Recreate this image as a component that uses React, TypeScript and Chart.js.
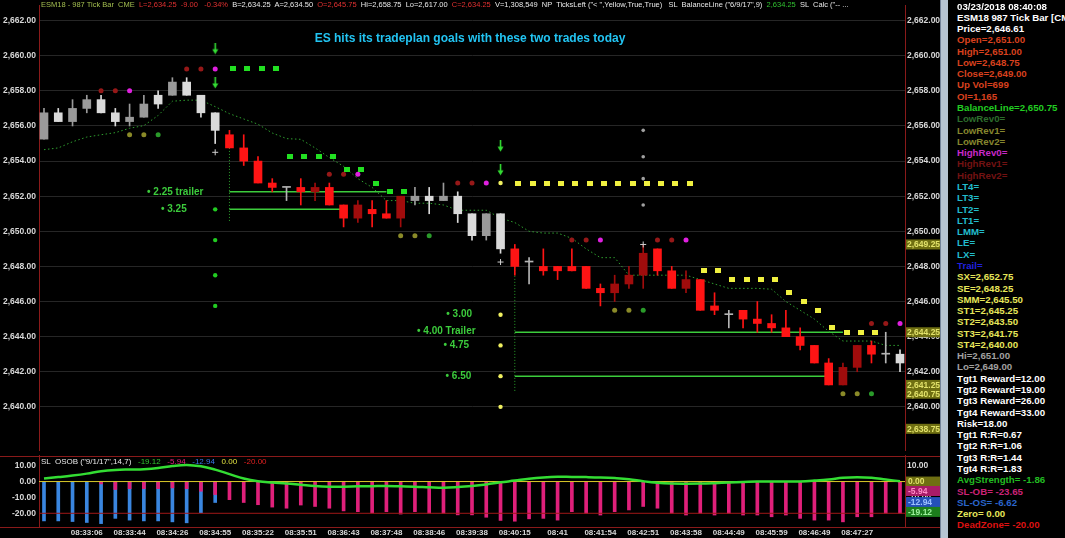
import React, { useEffect, useRef } from 'react';
import { Chart, registerables } from 'chart.js';

Chart.register(...registerables);

// ---------------- data ----------------
const TIME_LABELS = ['08:33:06', '08:33:44', '08:34:26', '08:34:55', '08:35:22', '08:35:51', '08:36:43', '08:37:48', '08:38:46', '08:39:38', '08:40:15', '08:41', '08:41:54', '08:42:51', '08:43:58', '08:44:49', '08:45:59', '08:46:49', '08:47:27'];
const FIRST_LABEL_BAR = 3;
const LABEL_STEP = 3;

const OPEN = [2655.25, 2656.25, 2656.25, 2657.0, 2657.5, 2656.75, 2656.25, 2656.5, 2657.25, 2657.75, 2658.5, 2657.75, 2656.75, 2655.5, 2654.75, 2654.0, 2652.75, 2652.5, 2652.5, 2652.5, 2652.5, 2651.5, 2651.5, 2651.25, 2651.0, 2652.0, 2651.75, 2652.0, 2651.75, 2652.0, 2651.0, 2651.0, 2651.0, 2649.0, 2648.25, 2648.0, 2648.0, 2648.0, 2648.0, 2646.75, 2647.0, 2647.5, 2648.75, 2649.0, 2647.75, 2647.25, 2647.25, 2645.75, 2645.25, 2645.5, 2645.0, 2644.75, 2644.5, 2644.0, 2643.5, 2642.5, 2642.25, 2642.25, 2643.5, 2643.0, 2642.5];
const HIGH = [2657.0, 2657.0, 2657.5, 2657.75, 2657.75, 2657.0, 2657.25, 2657.75, 2658.0, 2658.75, 2658.75, 2657.75, 2656.75, 2655.75, 2655.5, 2654.25, 2653.0, 2652.5, 2653.0, 2652.75, 2652.75, 2651.5, 2651.75, 2651.75, 2651.75, 2652.0, 2652.5, 2652.5, 2652.75, 2652.25, 2651.0, 2651.0, 2651.0, 2649.25, 2648.5, 2649.0, 2648.0, 2649.0, 2648.0, 2647.0, 2647.5, 2648.0, 2649.25, 2649.0, 2648.0, 2647.75, 2647.25, 2646.5, 2645.5, 2645.5, 2646.0, 2645.25, 2645.5, 2644.5, 2643.5, 2642.75, 2642.5, 2643.5, 2643.75, 2644.25, 2643.25];
const LOW = [2655.25, 2656.25, 2656.0, 2656.75, 2656.75, 2656.0, 2656.0, 2656.5, 2657.0, 2657.75, 2657.75, 2656.5, 2655.0, 2654.75, 2653.75, 2652.75, 2652.25, 2651.75, 2651.5, 2651.75, 2651.5, 2650.25, 2650.5, 2650.25, 2650.75, 2650.25, 2651.5, 2651.0, 2651.75, 2650.5, 2649.5, 2649.5, 2648.75, 2647.5, 2647.0, 2647.5, 2647.25, 2647.75, 2646.75, 2645.75, 2646.0, 2646.75, 2646.75, 2647.5, 2646.75, 2646.5, 2645.5, 2645.25, 2644.5, 2644.5, 2644.25, 2644.25, 2644.0, 2643.25, 2642.5, 2641.25, 2641.25, 2642.0, 2642.5, 2642.5, 2642.0];
const CLOSE = [2656.75, 2656.75, 2657.0, 2657.5, 2656.75, 2656.25, 2656.5, 2657.25, 2657.75, 2658.5, 2657.75, 2656.75, 2655.75, 2654.75, 2654.0, 2652.75, 2652.5, 2652.5, 2652.25, 2652.25, 2651.5, 2650.75, 2650.75, 2651.0, 2650.75, 2650.75, 2652.0, 2651.75, 2652.0, 2651.0, 2649.75, 2649.75, 2649.0, 2648.0, 2648.25, 2647.75, 2647.75, 2647.75, 2646.75, 2646.5, 2646.5, 2647.0, 2647.5, 2647.75, 2646.75, 2646.75, 2645.5, 2645.5, 2645.25, 2645.0, 2644.75, 2644.5, 2644.0, 2643.5, 2642.5, 2641.25, 2641.25, 2643.5, 2643.0, 2643.0, 2643.0];
// L light gray, M mid gray, R red, D dark red, X doji
const CANDLE_TONE = 'MLMMLLMMLMLLLRRRRXRDRRDRRDMLMLLMLRXRRRRRDDDRRDRRXRRRRRRRDDRXL'.split('');
const BALANCE_LINE = [2654.65, 2654.75, 2655.1, 2655.37, 2655.5, 2655.62, 2655.87, 2656.02, 2656.6, 2657.41, 2657.47, 2657.47, 2657.1, 2656.7, 2656.4, 2656.1, 2655.6, 2655.28, 2655.24, 2654.75, 2654.2, 2653.7, 2653.0, 2652.5, 2651.75, 2651.75, 2651.6, 2651.6, 2651.5, 2651.2, 2651.2, 2651.2, 2650.75, 2650.5, 2650.0, 2649.9, 2649.9, 2649.6, 2649.0, 2648.5, 2648.5, 2647.5, 2647.5, 2647.5, 2647.5, 2647.5, 2647.25, 2647.0, 2646.75, 2646.75, 2646.75, 2646.7, 2646.0, 2645.5, 2645.0, 2644.3, 2643.75, 2643.75, 2643.75, 2643.5, 2643.5];

const PRICE_TICKS = [2640, 2642, 2644, 2646, 2648, 2650, 2652, 2654, 2656, 2658, 2660, 2662];
const PRICE_AXIS_MARKS = [2649.25, 2644.25, 2641.25, 2640.75, 2638.75];

// [bar, price]
const GREEN_SQUARES = [[13, 2659.25], [14, 2659.25], [15, 2659.25], [16, 2659.25], [17, 2654.25], [18, 2654.25], [19, 2654.25], [20, 2654.25], [21, 2653.5], [22, 2653.5], [23, 2652.75], [24, 2652.25], [25, 2652.25]];
const YELLOW_SQUARES = [[33, 2652.75], [34, 2652.75], [35, 2652.75], [36, 2652.75], [37, 2652.75], [38, 2652.75], [39, 2652.75], [40, 2652.75], [41, 2652.75], [42, 2652.75], [43, 2652.75], [44, 2652.75], [45, 2652.75], [46, 2647.75], [47, 2647.75], [48, 2647.25], [49, 2647.25], [50, 2647.25], [51, 2647.25], [52, 2646.5], [53, 2646.0], [54, 2645.5], [55, 2644.5], [56, 2644.25], [57, 2644.25], [58, 2644.25]];
const HIGH_REV_DOTS = [[4, 2658], [5, 2658], [10, 2659.25], [11, 2659.25], [20, 2653.25], [21, 2653.25], [29, 2652.75], [30, 2652.75], [37, 2649.5], [38, 2649.5], [43, 2649.5], [44, 2649.5], [58, 2644.75], [59, 2644.75]];
const HIGH_REV0_DOTS = [[6, 2658], [12, 2659.25], [22, 2653.25], [31, 2652.75], [39, 2649.5], [45, 2649.5], [60, 2644.75]];
const LOW_REV_DOTS = [[6, 2655.5], [7, 2655.5], [25, 2649.75], [26, 2649.75], [40, 2645.5], [41, 2645.5], [56, 2640.75], [57, 2640.75]];
const LOW_REV0_DOTS = [[8, 2655.5], [27, 2649.75], [42, 2645.5], [58, 2640.75]];
const TRADE1_TARGETS = [[12, 2651.25], [12, 2649.5], [12, 2647.5], [12, 2645.75]];
const TRADE2_TARGETS = [[32, 2645.25], [32, 2643.5], [32, 2641.75], [32, 2640.0], [32, 2652.75]];
const LONG_TARGETS = [[42, 2651.5], [42, 2653.0], [42, 2654.25], [42, 2655.75]];
const ENTRIES = [[12, 2654.5], [32, 2648.25], [42, 2649.25]];
const ARROWS = [[12, 2660.4], [12, 2658.45], [32, 2654.85], [32, 2653.5]];
const TARGET_LINES = [
  { from: 13, to: 24, price: 2652.25 },
  { from: 13, to: 21, price: 2651.25 },
  { from: 33, to: 56, price: 2644.25 },
  { from: 33, to: 55, price: 2641.75 },
];
const STOP_DROPS = [
  { bar: 13, top: 2654.75, bottom: 2650.5 },
  { bar: 33, top: 2649.0, bottom: 2640.9 },
];
const TRADE_NOTES = [
  { bar: 9.2, price: 2652.25, text: '• 2.25 trailer' },
  { bar: 9.1, price: 2651.25, text: '• 3.25' },
  { bar: 29.1, price: 2645.25, text: '• 3.00' },
  { bar: 28.2, price: 2644.3, text: '• 4.00 Trailer' },
  { bar: 28.9, price: 2643.5, text: '• 4.75' },
  { bar: 29.05, price: 2641.75, text: '• 6.50' },
];

const OS_BLUE = [-24.8, -24.8, -25.2, -25.8, -26.5, -23.2, -24.3, -24.8, -24.8, -25.4, -26.0, -19.6, -13.2];
const OB_PINK = [0, 0, 0, 0, -1.5, -5.0, -4.5, -4.5, -4.5, -4.0, -4.5, -6.1, -8.2, -11.4, -13.2, -14.6, -16.1, -16.8, -14.8, -15.7, -16.8, -18.5, -19.0, -19.8, -19.0, -20.5, -19.0, -20.0, -20.0, -21.0, -21.0, -22.5, -24.5, -25.0, -23.5, -23.2, -24.3, -19.0, -20.0, -21.1, -19.0, -17.9, -15.7, -16.8, -20.0, -21.1, -20.0, -21.1, -20.0, -21.1, -21.1, -22.2, -21.1, -23.2, -24.3, -24.3, -25.4, -22.2, -22.2, -20.0, -20.0];
const AVG_STRENGTH = [1.9, 2.8, 3.8, 5.0, 6.5, 7.3, 7.6, 7.8, 8.5, 9.8, 10.5, 9.6, 7.5, 4.7, 1.9, 0.2, -0.6, -1.2, -2.0, -2.8, -3.2, -3.2, -3.0, -2.9, -2.8, -3.0, -3.2, -3.6, -3.9, -3.5, -2.8, -1.8, -0.5, 0.6, 1.8, 2.6, 3.0, 2.9, 2.8, 2.6, 2.2, 1.5, 0.2, -0.8, -1.3, -1.4, -1.3, -1.0, -0.6, -0.3, 0.0, 0.0, 0.0, 0.1, 0.6, 1.3, 2.4, 2.7, 2.4, 1.3, 0.2];
const ZERO_LEVEL = 0;
const DEAD_ZONE = -20;
const OSC_TICKS = [10, 0, -10, -20];
const OSC_AXIS_MARKS = [
  { value: 0, label: '0.00', bg: '#6f6f12', fg: '#e2e26a' },
  { value: -12.94, label: '-12.94', bg: '#2450b8', fg: '#9cc0ff' },
  { value: -5.94, label: '-5.94', bg: '#a81c68', fg: '#ff8cc8' },
  { value: -19.12, label: '-19.12', bg: '#1c7e1c', fg: '#9cf09c' },
];

const HEADER_SEGMENTS: [string, string][] = [
  ['ESM18 - 987 Tick Bar  CME  ', '#a4bf50'],
  ['L=2,634.25  -9.00   -0.34%  ', '#e03030'],
  ['B=2,634.25  A=2,634.50  ', '#e8e8e8'],
  ['O=2,645.75  ', '#e03030'],
  ['Hi=2,658.75  Lo=2,617.00  ', '#e8e8e8'],
  ['C=2,634.25  ', '#e03030'],
  ['V=1,308,549  NP  TicksLeft ("< ",Yellow,True,True)   SL  BalanceLine ("6/9/17",9)  ', '#e8e8e8'],
  ['2,634.25', '#30c030'],
  ['  SL  Calc ("-- ...', '#e8e8e8'],
];
const OSC_LEGEND: [string, string][] = [
  ['SL  OSOB ("9/1/17",14,7)   ', '#e8e8e8'],
  ['-19.12   ', '#30c030'],
  ['-5.94   ', '#e0207a'],
  ['-12.94   ', '#3a78e8'],
  ['0.00   ', '#e0e040'],
  ['-20.00', '#e02020'],
];
const TITLE = 'ES hits its tradeplan goals with these two trades today';

const OR = '#d8401e', CY = '#22bccc', YE = '#e6e65a', W = '#ffffff';
const PANEL_LINES: [string, string][] = [
  ['03/23/2018 08:40:08', W], ['ESM18 987 Tick Bar [CME]', W], ['Price=2,646.61', W],
  ['Open=2,651.00', OR], ['High=2,651.00', OR], ['Low=2,648.75', OR], ['Close=2,649.00', OR], ['Up Vol=699', OR], ['OI=1,165', OR],
  ['BalanceLine=2,650.75', '#22cc22'],
  ['LowRev0=', '#2d6e2d'], ['LowRev1=', '#86862e'], ['LowRev2=', '#86862e'],
  ['HighRev0=', '#c828c8'], ['HighRev1=', '#721212'], ['HighRev2=', '#721212'],
  ['LT4=', CY], ['LT3=', CY], ['LT2=', CY], ['LT1=', CY], ['LMM=', CY], ['LE=', CY], ['LX=', CY],
  ['Trail=', '#2020dd'],
  ['SX=2,652.75', YE], ['SE=2,648.25', YE], ['SMM=2,645.50', YE], ['ST1=2,645.25', YE], ['ST2=2,643.50', YE], ['ST3=2,641.75', YE], ['ST4=2,640.00', YE],
  ['Hi=2,651.00', '#a0a0a0'], ['Lo=2,649.00', '#a0a0a0'],
  ['Tgt1 Reward=12.00', W], ['Tgt2 Reward=19.00', W], ['Tgt3 Reward=26.00', W], ['Tgt4 Reward=33.00', W],
  ['Risk=18.00', W],
  ['Tgt1 R:R=0.67', W], ['Tgt2 R:R=1.06', W], ['Tgt3 R:R=1.44', W], ['Tgt4 R:R=1.83', W],
  ['AvgStrength= -1.86', '#22bb22'], ['SL-OB= -23.65', '#cc2277'], ['SL-OS= -6.62', '#2a66cc'], ['Zero= 0.00', YE], ['DeadZone= -20.00', '#dd1111'],
];

// ---------------- layout / style constants ----------------
const FONT = '"Liberation Sans", Arial, sans-serif';
const X_MIN = -0.35;
const X_MAX = 60.35;
const PRICE_MIN = 2637.543;
const PRICE_MAX = 2662.891;
const OSC_MIN = -28.64;
const OSC_MAX = 16.74;
const RED_RULE = '#8a1a1a';
const GRID = '#262626';
const TICK_COLOR = '#d8d8d8';
const SQUARE_SHIFT = 0.25;
const TONE_COLOR: Record<string, string> = { L: '#dadada', M: '#9a9a9a', R: '#ff1414', D: '#a00c0c', X: '#b4b4b4' };

const fmtPrice = (v: number) => v.toLocaleString('en-US', { minimumFractionDigits: 2, maximumFractionDigits: 2 });

function makeSquare(color: string) {
  const c = document.createElement('canvas');
  c.width = 6; c.height = 5;
  const g = c.getContext('2d')!;
  g.fillStyle = color; g.fillRect(0, 0, 6, 5);
  return c;
}
function makeArrow(color: string) {
  const c = document.createElement('canvas');
  c.width = 7; c.height = 12;
  const g = c.getContext('2d')!;
  g.strokeStyle = color; g.lineWidth = 1.6;
  g.beginPath(); g.moveTo(3.5, 0); g.lineTo(3.5, 8); g.stroke();
  g.fillStyle = color;
  g.beginPath(); g.moveTo(0.5, 6.5); g.lineTo(6.5, 6.5); g.lineTo(3.5, 11.5); g.closePath(); g.fill();
  return c;
}

const pts = (arr: number[][], shift = 0) => arr.map(([b, p]) => ({ x: b + shift, y: p }));
const dotSet = (arr: number[][], color: string, radius = 2.3) => ({
  type: 'scatter' as const, data: pts(arr), pointRadius: radius, pointBackgroundColor: color, pointBorderWidth: 0, order: 1,
});

export default function App() {
  const priceRef = useRef<HTMLCanvasElement>(null);
  const oscRef = useRef<HTMLCanvasElement>(null);

  useEffect(() => {
    const tickFont = { family: FONT, size: 8.5, weight: 'bold' as const };

    const priceDecor = {
      id: 'priceDecor',
      afterDatasetsDraw(chart: any) {
        const { ctx, scales } = chart;
        ctx.save();
        ctx.font = `bold 10px ${FONT}`;
        ctx.fillStyle = '#3ccc3c';
        ctx.textAlign = 'center';
        ctx.textBaseline = 'middle';
        TRADE_NOTES.forEach((n) => ctx.fillText(n.text, scales.x.getPixelForValue(n.bar), scales.y.getPixelForValue(n.price)));
        ctx.restore();
      },
      afterDraw(chart: any) {
        const { ctx, scales, chartArea } = chart;
        ctx.save();
        ctx.font = `bold 8.5px ${FONT}`;
        ctx.textAlign = 'left';
        ctx.textBaseline = 'middle';
        PRICE_AXIS_MARKS.forEach((v) => {
          const py = scales.y.getPixelForValue(v);
          ctx.fillStyle = '#6f6f12';
          ctx.fillRect(chartArea.right + 1, py - 5, 35, 10);
          ctx.fillStyle = '#e2e26a';
          ctx.fillText(fmtPrice(v), chartArea.right + 2, py + 0.5);
        });
        ctx.restore();
      },
    };

    const yAxis = (position: 'left' | 'right', width: number, showGrid: boolean, pad: number) => ({
      type: 'linear' as const,
      position,
      min: PRICE_MIN,
      max: PRICE_MAX,
      beginAtZero: false,
      afterBuildTicks: (s: any) => { s.ticks = PRICE_TICKS.map((value) => ({ value })); },
      afterFit: (s: any) => { s.width = width; s.paddingTop = 0; s.paddingBottom = 0; },
      grid: { display: showGrid, color: GRID, drawTicks: false },
      border: { display: true, color: RED_RULE, width: 1 },
      ticks: { color: TICK_COLOR, font: tickFont, padding: pad, callback: (v: any) => fmtPrice(Number(v)) },
    });

    const green = '#22e022';
    const priceChart = new Chart(priceRef.current!, {
      type: 'bar',
      data: {
        datasets: [
          ...STOP_DROPS.map((d) => ({
            type: 'line' as const, data: [{ x: d.bar, y: d.top }, { x: d.bar, y: d.bottom }],
            borderColor: '#2aa02a', borderWidth: 1, borderDash: [1, 2], pointRadius: 0, order: 6,
          })),
          ...TARGET_LINES.map((l) => ({
            type: 'line' as const, data: [{ x: l.from, y: l.price }, { x: l.to, y: l.price }],
            borderColor: '#3ccc3c', borderWidth: 1.5, pointRadius: 0, order: 5,
          })),
          {
            type: 'line' as const, data: BALANCE_LINE.map((v, i) => ({ x: i, y: v })),
            borderColor: '#2f9f2f', borderWidth: 1, borderDash: [1.5, 2.5], pointRadius: 0, tension: 0, order: 4,
          },
          {
            type: 'bar' as const, data: OPEN.map((_, i) => ({ x: i, y: [LOW[i], HIGH[i]] })),
            backgroundColor: CANDLE_TONE.map((t) => TONE_COLOR[t]), barThickness: 1, grouped: false, order: 3,
          },
          {
            type: 'bar' as const, data: OPEN.map((o, i) => ({ x: i, y: [o, CLOSE[i]] })),
            backgroundColor: CANDLE_TONE.map((t) => TONE_COLOR[t]), barThickness: 8, minBarLength: 1, grouped: false, order: 2,
          },
          { type: 'scatter' as const, data: pts(GREEN_SQUARES, SQUARE_SHIFT), pointStyle: makeSquare(green), pointRadius: 3, order: 1 },
          { type: 'scatter' as const, data: pts(YELLOW_SQUARES, SQUARE_SHIFT), pointStyle: makeSquare('#f0f040'), pointRadius: 3, order: 1 },
          dotSet(HIGH_REV_DOTS, '#961818', 2.5),
          dotSet(HIGH_REV0_DOTS, '#e020e0', 2.5),
          dotSet(LOW_REV_DOTS, '#8a8a28', 2.5),
          dotSet(LOW_REV0_DOTS, '#2a9a2a', 2.5),
          dotSet(TRADE1_TARGETS, '#22cc22', 2.2),
          dotSet(TRADE2_TARGETS, '#f0f060', 2.2),
          dotSet(LONG_TARGETS, '#a0a0a0', 1.8),
          {
            type: 'scatter' as const, data: pts(ENTRIES), pointStyle: 'cross', pointRadius: 3,
            pointBorderColor: '#cfcfcf', pointBorderWidth: 1, order: 1,
          },
          { type: 'scatter' as const, data: pts(ARROWS), pointStyle: makeArrow('#33dd33'), pointRadius: 3, order: 1 },
        ] as any,
      },
      options: {
        animation: false,
        responsive: false,
        events: [],
        layout: { padding: 0 },
        plugins: { legend: { display: false }, tooltip: { enabled: false } },
        scales: {
          x: { type: 'linear', min: X_MIN, max: X_MAX, display: false, offset: false },
          y: yAxis('left', 39, true, 3),
          yR: yAxis('right', 35, false, 2),
        } as any,
      },
      plugins: [priceDecor],
    });

    const oscDecor = {
      id: 'oscDecor',
      afterDraw(chart: any) {
        const { ctx, scales, chartArea, width } = chart;
        ctx.save();
        ctx.strokeStyle = RED_RULE;
        ctx.lineWidth = 1;
        ctx.beginPath();
        ctx.moveTo(0, 1.5); ctx.lineTo(width, 1.5);
        ctx.moveTo(0, chartArea.bottom + 0.5); ctx.lineTo(width, chartArea.bottom + 0.5);
        ctx.stroke();
        ctx.font = `bold 8.5px ${FONT}`;
        ctx.textAlign = 'left';
        ctx.textBaseline = 'middle';
        OSC_AXIS_MARKS.forEach((m) => {
          const py = scales.y.getPixelForValue(m.value);
          ctx.fillStyle = m.bg;
          ctx.fillRect(chartArea.right + 1, py - 5, 35, 10);
          ctx.fillStyle = m.fg;
          ctx.fillText(m.label, chartArea.right + 3, py + 0.5);
        });
        ctx.restore();
      },
    };

    const oscAxis = (position: 'left' | 'right', width: number, pad: number) => ({
      type: 'linear' as const,
      position,
      min: OSC_MIN,
      max: OSC_MAX,
      beginAtZero: false,
      afterBuildTicks: (s: any) => { s.ticks = OSC_TICKS.map((value) => ({ value })); },
      afterFit: (s: any) => { s.width = width; s.paddingTop = 0; s.paddingBottom = 0; },
      grid: { display: false, drawTicks: false },
      border: { display: true, color: RED_RULE, width: 1 },
      ticks: { color: TICK_COLOR, font: tickFont, padding: pad, callback: (v: any) => Number(v).toFixed(2) },
    });

    const levelLine = (value: number, color: string, order: number) => ({
      type: 'line' as const, data: [{ x: X_MIN, y: value }, { x: X_MAX, y: value }],
      borderColor: color, borderWidth: 1, pointRadius: 0, order,
    });

    const oscChart = new Chart(oscRef.current!, {
      type: 'bar',
      data: {
        datasets: [
          {
            type: 'line' as const, data: AVG_STRENGTH.map((v, i) => ({ x: i, y: v })),
            borderColor: '#33dd33', borderWidth: 2.5, pointRadius: 0, tension: 0.4, order: 0,
          },
          levelLine(ZERO_LEVEL, '#d8c828', 1),
          levelLine(DEAD_ZONE, '#a01818', 2),
          {
            type: 'bar' as const, data: OB_PINK.map((v, i) => ({ x: i, y: v })),
            backgroundColor: '#e0207a', barThickness: 3, grouped: false, order: 3,
          },
          {
            type: 'bar' as const, data: OS_BLUE.map((v, i) => ({ x: i, y: v })),
            backgroundColor: '#3a86e0', barThickness: 3, grouped: false, order: 4,
          },
        ] as any,
      },
      options: {
        animation: false,
        responsive: false,
        events: [],
        layout: { padding: 0 },
        plugins: { legend: { display: false }, tooltip: { enabled: false } },
        scales: {
          x: {
            type: 'linear', position: 'bottom', min: X_MIN, max: X_MAX, offset: false,
            afterBuildTicks: (s: any) => { s.ticks = TIME_LABELS.map((_, k) => ({ value: FIRST_LABEL_BAR + k * LABEL_STEP })); },
            afterFit: (s: any) => { s.height = 11; s.paddingLeft = 0; s.paddingRight = 0; },
            grid: { display: false, drawTicks: false },
            border: { display: false },
            ticks: {
              color: TICK_COLOR, font: { family: FONT, size: 8, weight: 'bold' }, padding: 1, autoSkip: false, maxRotation: 0,
              callback: (v: any) => TIME_LABELS[Math.round((Number(v) - FIRST_LABEL_BAR) / LABEL_STEP)] ?? '',
            },
          },
          y: oscAxis('left', 39, 3),
          yR: oscAxis('right', 35, 2),
        } as any,
      },
      plugins: [oscDecor],
    });

    return () => { priceChart.destroy(); oscChart.destroy(); };
  }, []);

  const lineH = 11.28;
  return (
    <div style={{ position: 'fixed', left: 0, top: 0, width: 1065, height: 538, background: '#000', overflow: 'hidden', fontFamily: FONT }}>
      <canvas ref={priceRef} width={940} height={455} style={{ position: 'absolute', left: 0, top: 0 }} />
      <canvas ref={oscRef} width={940} height={83} style={{ position: 'absolute', left: 0, top: 455 }} />
      <div style={{ position: 'absolute', left: 41, top: 0, fontSize: 7.5, lineHeight: '9px', whiteSpace: 'pre' }}>
        {HEADER_SEGMENTS.map(([t, c], k) => <span key={k} style={{ color: c }}>{t}</span>)}
      </div>
      <div style={{ position: 'absolute', left: 0, width: 940, top: 30, textAlign: 'center', fontSize: 12, fontWeight: 'bold', color: '#22c4f2', lineHeight: '16px' }}>
        {TITLE}
      </div>
      <div style={{ position: 'absolute', left: 41, top: 457, fontSize: 8, lineHeight: '10px', whiteSpace: 'pre' }}>
        {OSC_LEGEND.map(([t, c], k) => <span key={k} style={{ color: c }}>{t}</span>)}
      </div>
      <div style={{ position: 'absolute', left: 940, top: 0, width: 7, height: 538, background: '#b6c4d2', borderLeft: '1px solid #74849a' }} />
      <div style={{ position: 'absolute', left: 948, top: 0, width: 117, height: 538, overflow: 'hidden' }}>
        {PANEL_LINES.map(([t, c], k) => (
          <div key={k} style={{ position: 'absolute', left: 9, top: 0.5 + k * lineH, height: lineH, lineHeight: `${lineH}px`, fontSize: 9.7, fontWeight: 'bold', color: c, whiteSpace: 'nowrap' }}>{t}</div>
        ))}
      </div>
    </div>
  );
}
